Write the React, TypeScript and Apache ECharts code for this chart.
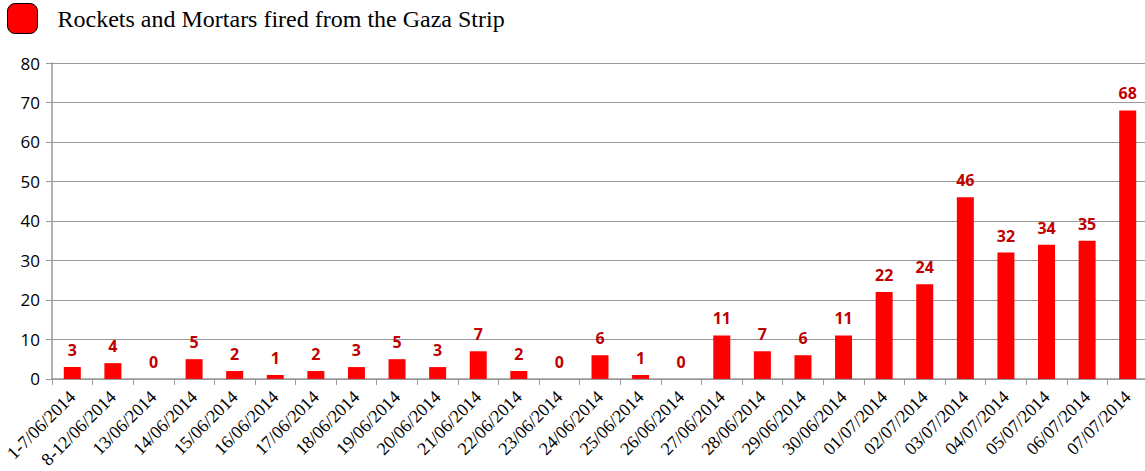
import React, { useEffect, useRef } from "react";
import * as echarts from "echarts";

const categories = [
  "1-7/06/2014", "8-12/06/2014", "13/06/2014", "14/06/2014", "15/06/2014", "16/06/2014",
  "17/06/2014", "18/06/2014", "19/06/2014", "20/06/2014", "21/06/2014", "22/06/2014",
  "23/06/2014", "24/06/2014", "25/06/2014", "26/06/2014", "27/06/2014", "28/06/2014",
  "29/06/2014", "30/06/2014", "01/07/2014", "02/07/2014", "03/07/2014", "04/07/2014",
  "05/07/2014", "06/07/2014", "07/07/2014",
];
const values = [3, 4, 0, 5, 2, 1, 2, 3, 5, 3, 7, 2, 0, 6, 1, 0, 11, 7, 6, 11, 22, 24, 46, 32, 34, 35, 68];
const seriesName = "Rockets and Mortars fired from the Gaza Strip";
const yTicks = { min: 0, max: 80, interval: 10 };

export default function App() {
  const ref = useRef<HTMLDivElement>(null);
  useEffect(() => {
    if (!ref.current) return;
    const chart = echarts.init(ref.current, null, { renderer: "svg" });
    chart.setOption({
      animation: false,
      backgroundColor: "#ffffff",
      legend: {
        left: 7,
        top: 3,
        padding: 0,
        itemWidth: 30,
        itemHeight: 30,
        icon: "roundRect",
        data: [{ name: seriesName, itemStyle: { color: "#ff0000", borderColor: "#000000", borderWidth: 1 } }],
        textStyle: {
          fontFamily: "Liberation Serif",
          fontSize: 24,
          color: "#000000",
          padding: [0, 0, 0, 15],
        },
      },
      grid: { left: 52, right: 2, top: 63, bottom: 91, containLabel: false },
      xAxis: {
        type: "category",
        data: categories,
        boundaryGap: true,
        axisLine: { lineStyle: { color: "#999999", width: 1.5 } },
        axisTick: { show: true, length: 6, lineStyle: { color: "#999999" }, alignWithLabel: false },
        axisLabel: {
          rotate: 45,
          interval: 0,
          margin: 15,
          fontFamily: "Liberation Serif",
          fontSize: 18,
          color: "#000000",
        },
      },
      yAxis: {
        type: "value",
        min: yTicks.min,
        max: yTicks.max,
        interval: yTicks.interval,
        axisLine: { show: true, lineStyle: { color: "#999999", width: 1.5 } },
        axisTick: { show: true, length: 6, inside: false, lineStyle: { color: "#999999" } },
        splitLine: { lineStyle: { color: "#999999", width: 1 } },
        axisLabel: {
          margin: 12,
          fontFamily: "Open Sans",
          fontSize: 17,
          color: "#000000",
        },
      },
      series: [
        {
          name: seriesName,
          type: "bar",
          data: values,
          barWidth: 17,
          itemStyle: { color: "#ff0000" },
          label: {
            show: true,
            position: "top",
            distance: 9,
            fontFamily: "Open Sans",
            fontWeight: "bold",
            fontSize: 16,
            color: "#c00000",
          },
        },
      ],
    });
    return () => chart.dispose();
  }, []);
  return (
    <div
      ref={ref}
      style={{ position: "fixed", left: 0, top: 0, width: 1150, height: 471 }}
    />
  );
}
